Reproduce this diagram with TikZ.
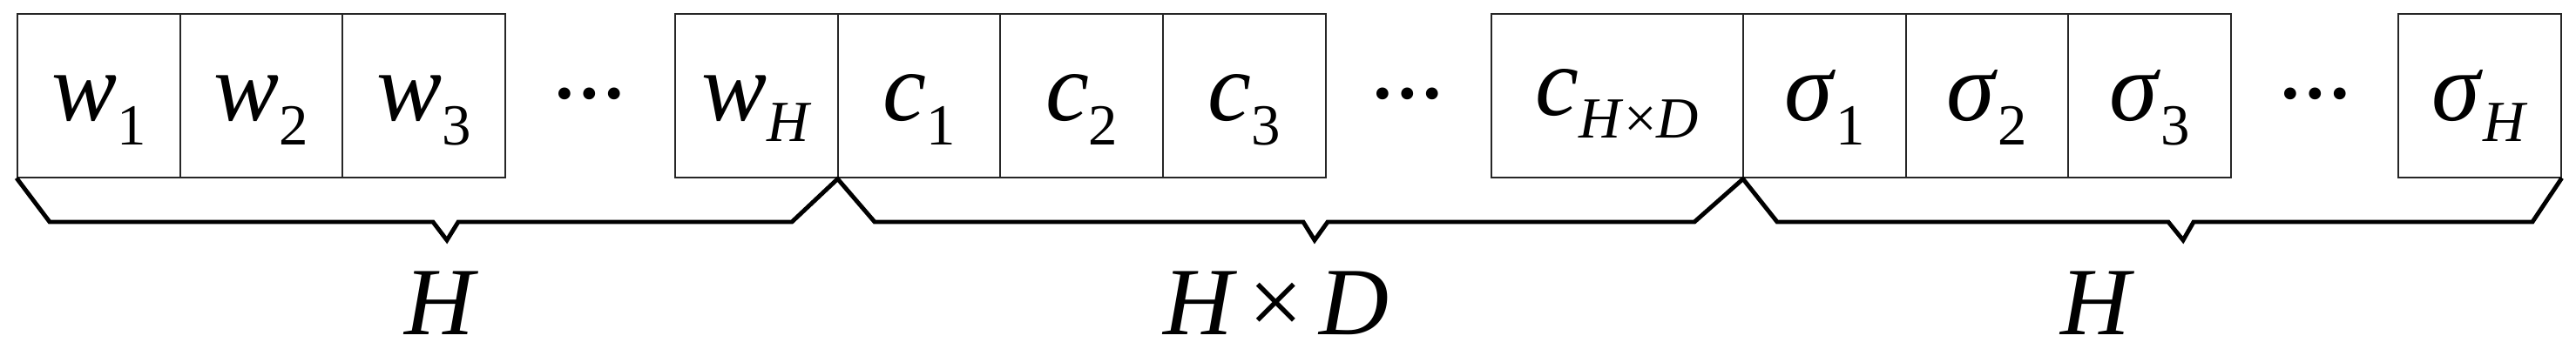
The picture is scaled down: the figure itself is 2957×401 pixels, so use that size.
\documentclass[tikz,border=0pt]{standalone}
\usepackage{fontspec}
\setmainfont{Liberation Serif}
\newcommand{\idx}[2][0.28cm]{\raisebox{-#1}{\fontsize{19}{19}\selectfont #2}}

\begin{document}
\begin{tikzpicture}[x=0.01cm,y=-0.01cm]

      \useasboundingbox (0,0) rectangle (2957,401);

      \begin{scope}[every node/.style={draw=black!85,line width=0.55pt,inner sep=0pt,
          minimum width=1.867cm,minimum height=1.87cm,text height=0.8cm,text depth=0.23cm,
          font=\fontsize{32}{32}\selectfont}]
        \node (w1)  at (113.3,110)  {\textit{w}\idx{1}};
        \node (w2)  at (300,110)    {\textit{w}\idx{2}};
        \node (w3)  at (486.7,110)  {\textit{w}\idx{3}};
        \node (wH)  at (868.3,110)  {\textit{w}\idx[0.24cm]{\textit{H}}};
        \node (c1)  at (1055,110)   {\textit{c}\idx{1}};
        \node (c2)  at (1241.7,110) {\textit{c}\idx{2}};
        \node (c3)  at (1428.3,110) {\textit{c}\idx{3}};
        \node[minimum width=2.89cm,text height=0.73cm,text depth=0.28cm] (cHD) at (1856.5,110)
          {\textit{c}\idx[0.26cm]{\textit{H}×\textit{D}}};
        \node (s1)  at (2094.3,110) {\textit{σ}\idx{1}};
        \node (s2)  at (2281,110)   {\textit{σ}\idx{2}};
        \node (s3)  at (2467.7,110) {\textit{σ}\idx{3}};
        \node (sH)  at (2846.3,110) {\textit{σ}\idx[0.24cm]{\textit{H}}};
      \end{scope}

      \begin{scope}[every node/.style={anchor=base,inner sep=0pt,font=\fontsize{24}{24}\selectfont\bfseries}]
        \node (gapW) at (677,114)  {…};
        \node (gapC) at (1616,114) {…};
        \node (gapS) at (2658,114) {…};
      \end{scope}

      \begin{scope}[every node/.style={anchor=base,inner sep=0pt,font=\fontsize{31.5}{31.5}\selectfont\itshape}]
        \node (sizeW) at (504,385)  {H};
        \node (sizeC) at (1465,385) {H\,\textup{×}\,D};
        \node (sizeS) at (2405,385) {H};
      \end{scope}

      \coordinate (tipW) at (513,276);
      \coordinate (tipC) at (1509,276);
      \coordinate (tipS) at (2506,276);

      \begin{scope}[line width=1.4pt,line join=miter]
        \draw (w1.south west) -- (57,255) -- (497,255) -- (tipW) -- (526,255) -- (909,255) -- (wH.south east);
        \draw (c1.south west) -- (1004,255) -- (1496,255) -- (tipC) -- (1524,255) -- (1945,255) -- (cHD.south east);
        \draw (s1.south west) -- (2040,255) -- (2489,255) -- (tipS) -- (2518,255) -- (2907,255) -- (sH.south east);
      \end{scope}

    \end{tikzpicture}
\end{document}
